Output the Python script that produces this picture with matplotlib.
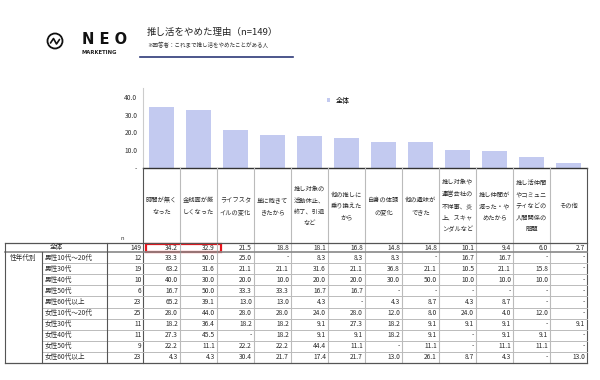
import matplotlib
matplotlib.use("Agg")
import matplotlib.pyplot as plt
from matplotlib.patches import Rectangle, Circle

plt.rcParams['font.family'] = ['Noto Sans CJK JP', 'DejaVu Sans']

title = "推し活をやめた理由（n=149）"
subtitle = "※回答者：これまで推し活をやめたことがある人"
categories = [
    "時間が無く\nなった", "金銭面が厳\nしくなった", "ライフスタ\nイルの変化", "単に飽きて\nきたから",
    "推し対象の\n活動休止、\n終了、引退\nなど", "他の推しに\n乗り換えた\nから", "自身の体調\nの変化",
    "他の趣味が\nできた", "推し対象や\n運営会社の\n不祥事、炎\n上、スキャ\nンダルなど",
    "推し仲間が\n減った・や\nめたから", "推し活仲間\nやコミュニ\nティなどの\n人間関係の\n問題", "その他",
]
total_n = 149
total = [34.2, 32.9, 21.5, 18.8, 18.1, 16.8, 14.8, 14.8, 10.1, 9.4, 6.0, 2.7]
group_label = "性年代別"
row_labels = ["男性10代～20代", "男性30代", "男性40代", "男性50代", "男性60代以上",
              "女性10代～20代", "女性30代", "女性40代", "女性50代", "女性60代以上"]
row_n = [12, 19, 10, 6, 23, 25, 11, 11, 9, 23]
N = None
row_values = [
    [33.3, 50.0, 25.0, N, 8.3, 8.3, 8.3, N, 16.7, 16.7, N, N],
    [63.2, 31.6, 21.1, 21.1, 31.6, 21.1, 36.8, 21.1, 10.5, 21.1, 15.8, N],
    [40.0, 30.0, 20.0, 10.0, 20.0, 20.0, 30.0, 50.0, 10.0, 10.0, 10.0, N],
    [16.7, 50.0, 33.3, 33.3, 16.7, 16.7, N, N, N, N, N, N],
    [65.2, 39.1, 13.0, 13.0, 4.3, N, 4.3, 8.7, 4.3, 8.7, N, N],
    [28.0, 44.0, 28.0, 28.0, 24.0, 28.0, 12.0, 8.0, 24.0, 4.0, 12.0, N],
    [18.2, 36.4, 18.2, 18.2, 9.1, 27.3, 18.2, 9.1, 9.1, 9.1, N, 9.1],
    [27.3, 45.5, N, 18.2, 9.1, 9.1, 18.2, 9.1, N, 9.1, 9.1, N],
    [22.2, 11.1, 22.2, 22.2, 44.4, 11.1, N, 11.1, N, 11.1, 11.1, N],
    [4.3, 4.3, 30.4, 21.7, 17.4, 21.7, 13.0, 26.1, 8.7, 4.3, N, 13.0],
]
yticks = [0, 10, 20, 30, 40]
legend_label = "全体"

W, H = 600, 380
fig = plt.figure(figsize=(6, 3.8), dpi=100)

# geometry (pixels)
x0, colw = 143, 37
ncol = len(categories)
x1 = x0 + colw * ncol
ax_top, ax_bot = 88, 168
bar_color = "#c3caf0"
txt = "#2a2a2a"

# bar chart axes
ax = fig.add_axes([x0 / W, (H - ax_bot) / H, (x1 - x0) / W, (ax_bot - ax_top) / H])
xs = list(range(ncol))
ax.bar(xs, total, width=0.68, color=bar_color, label=legend_label)
ax.set_xlim(-0.5, ncol - 0.5)
ax.set_ylim(0, 45)
ax.set_yticks(yticks)
ax.set_yticklabels(["-" if v == 0 else f"{v:.1f}" for v in yticks], fontsize=4.8, color="#333333")
ax.set_xticks([])
ax.tick_params(axis='y', length=0, pad=4)
for s in ["top", "right", "bottom"]:
    ax.spines[s].set_visible(False)
ax.spines["left"].set_color("#cccccc")
ax.spines["left"].set_linewidth(0.8)
ax.patch.set_alpha(0)
leg = ax.legend(loc="upper left", bbox_to_anchor=(0.40, 0.97), frameon=False, fontsize=5,
                handlelength=0.5, handleheight=0.5, handletextpad=0.8)

# overlay axes in pixel coordinates
ov = fig.add_axes([0, 0, 1, 1])
ov.set_xlim(0, W)
ov.set_ylim(H, 0)
ov.axis("off")
ov.patch.set_alpha(0)

# logo
ov.add_patch(Circle((55, 41), 7.5, fill=False, lw=1.3, color="#111111"))
ov.plot([50.5, 53.5, 56.5, 59.5], [43, 38.5, 44, 39.5], color="#111111", lw=1.2, solid_capstyle="round")
ov.text(82, 39, "N E O", fontsize=10.5, fontweight="bold", ha="left", va="center", color="#111111",
        family=["DejaVu Sans"])
ov.text(82, 52.5, "MARKETING", fontsize=3.8, fontweight="bold", ha="left", va="center", color="#222222",
        family=["DejaVu Sans"])

# title
ov.text(147, 32, title, fontsize=6.8, ha="left", va="center", color="#222222")
ov.text(147, 45, subtitle, fontsize=4.0, ha="left", va="center", color="#333333")
ov.plot([140, 293], [57, 57], color="#2e3a78", lw=1.2)

# header area
fs = 4.8
dark = "#555555"
light = "#bbbbbb"
hdr_top, tbl_top = 168, 243
row0_bot = 252
rowh = 11.1
nrows = len(row_labels)
tbl_bot = row0_bot + rowh * nrows

ov.plot([x0, x1], [hdr_top, hdr_top], color="#333333", lw=1.0)
for i in range(ncol + 1):
    xx = x0 + colw * i
    c = dark if i in (0, ncol) else light
    ov.plot([xx, xx], [hdr_top, tbl_bot], color=c, lw=0.8)
for i, lab in enumerate(categories):
    ov.text(x0 + colw * (i + 0.5), 206, lab, fontsize=4.5, ha="center", va="center",
            linespacing=1.6, color=txt)
ov.text(122, 238, "n", fontsize=4.2, ha="center", va="center", color="#333333")

# table grid
xl, xg, xlab, xn = 5, 42, 107, 143
ov.plot([xl, x1], [tbl_top, tbl_top], color=dark, lw=0.9)
ov.plot([xl, x1], [row0_bot, row0_bot], color="#888888", lw=1.2)
ov.plot([xl, x1], [tbl_bot, tbl_bot], color=dark, lw=0.9)
for r in range(1, nrows):
    yy = row0_bot + rowh * r
    ov.plot([xg, x1], [yy, yy], color=light, lw=0.7)
ov.plot([xl, xl], [tbl_top, tbl_bot], color=dark, lw=0.8)
ov.plot([xg, xg], [row0_bot, tbl_bot], color=dark, lw=0.8)
ov.plot([xlab, xlab], [tbl_top, tbl_bot], color=dark, lw=0.8)

# total row
ymid0 = (tbl_top + row0_bot) / 2
ov.text((xl + xlab) / 2, ymid0, legend_label, fontsize=fs, ha="center", va="center", color=txt)
ov.text(xn - 1.5, ymid0, str(total_n), fontsize=fs, ha="right", va="center", color=txt)
for i, v in enumerate(total):
    ov.text(x0 + colw * (i + 1) - 2, ymid0, f"{v:.1f}", fontsize=fs, ha="right", va="center", color=txt)
ov.add_patch(Rectangle((146, tbl_top + 0.5), 75, row0_bot - tbl_top - 1, fill=False, ec="#e8141c", lw=1.6))

# data rows
ov.text(23, row0_bot + rowh / 2, group_label, fontsize=fs, ha="center", va="center", color=txt)
for r, (lab, n, vals) in enumerate(zip(row_labels, row_n, row_values)):
    ym = row0_bot + rowh * (r + 0.5)
    ov.text(xg + 3, ym, lab, fontsize=fs, ha="left", va="center", color=txt)
    ov.text(xn - 1.5, ym, str(n), fontsize=fs, ha="right", va="center", color=txt)
    for i, v in enumerate(vals):
        s = "-" if v is None else f"{v:.1f}"
        ov.text(x0 + colw * (i + 1) - 2, ym, s, fontsize=fs, ha="right", va="center", color=txt)

fig.savefig("out.png", dpi=100)
